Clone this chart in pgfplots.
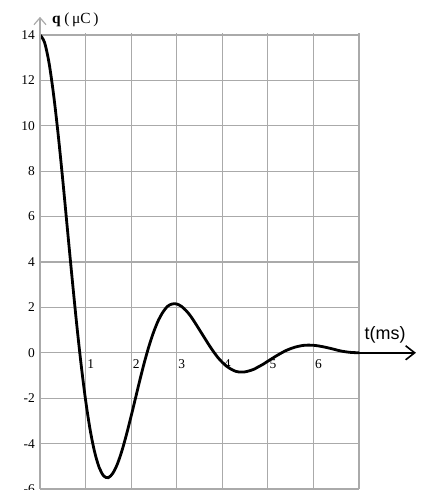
\documentclass[border=0pt]{standalone}
\usepackage{fontspec}
\setmainfont{Liberation Serif}
\newfontfamily\arial{Liberation Sans}
\usepackage{pgfplots}
\pgfplotsset{compat=1.18}
\usetikzlibrary{arrows.meta}
\definecolor{gridgray}{RGB}{170,170,170}

\begin{document}
\begin{tikzpicture}[x=1bp,y=1bp]
\useasboundingbox (0,0) rectangle (425,490);
\begin{axis}[
  at={(40bp,1bp)}, anchor=south west,
  scale only axis,
  width=319bp, height=456.3bp,
  xmin=0, xmax=7, ymin=-6, ymax=14.1,
  xtick={0,1,...,7}, xticklabels={},
  ytick={-6,-4,...,14},
  major tick length=0pt,
  axis line style={draw=none},
  grid=major,
  grid style={gridgray, line width=1.2bp},
  yticklabel style={inner sep=0pt, xshift=-5bp, font=\fontsize{13.5}{15}\selectfont},
  /pgf/number format/assume math mode=true,
  clip=false,
]
% damped oscillation of the charge
\addplot[black, line width=2.8bp, smooth] coordinates {
(0,14.00)(0.1,13.67)(0.2,12.75)(0.3,11.34)(0.4,9.59)(0.5,7.60)(0.6,5.48)
(0.7,3.38)(0.8,1.36)(0.9,-0.48)(1.0,-2.08)(1.1,-3.39)(1.2,-4.38)(1.3,-5.06)
(1.4,-5.43)(1.5,-5.50)(1.6,-5.30)(1.7,-4.89)(1.8,-4.30)(1.9,-3.58)(2.0,-2.79)
(2.1,-1.96)(2.2,-1.13)(2.3,-0.35)(2.4,0.35)(2.5,0.95)(2.6,1.44)(2.7,1.80)
(2.8,2.05)(2.9,2.15)(3.0,2.15)(3.1,2.05)(3.2,1.87)(3.3,1.63)(3.4,1.33)
(3.5,1.01)(3.6,0.69)(3.7,0.37)(3.8,0.07)(3.9,-0.20)(4.0,-0.42)(4.1,-0.60)
(4.2,-0.73)(4.3,-0.82)(4.4,-0.85)(4.5,-0.84)(4.6,-0.79)(4.7,-0.72)(4.8,-0.61)
(4.9,-0.50)(5.0,-0.37)(5.2,-0.12)(5.4,0.10)(5.6,0.25)(5.8,0.33)(6.0,0.33)
(6.2,0.27)(6.4,0.18)(6.6,0.08)(6.8,0.02)(7.0,0.00)
};
% axes
\draw[gridgray, line width=1.2bp, -{Straight Barb[length=7bp,width=12bp]}]
  (axis cs:0,-6) -- (axis cs:0,14.8);
\draw[black, line width=1.6bp, -{Straight Barb[length=9bp,width=14bp]}]
  (axis cs:7,0) -- (axis cs:8.25,0);
% time tick labels
\pgfplotsinvokeforeach{1,...,6}{
  \node[anchor=north west, inner sep=0pt, xshift=1.5bp, yshift=-7bp,
        font=\fontsize{13.5}{15}\selectfont] at (axis cs:#1,0) {#1};
}
\node[anchor=base west, inner sep=0pt, font=\fontsize{15.5}{17}\selectfont]
  at (axis cs:0.26,14.49) {\textbf{q} (\,μC\,)};
\node[anchor=base west, inner sep=0pt, font=\arial\fontsize{18}{20}\selectfont]
  at (axis cs:7.12,0.57) {t(ms)};
\end{axis}
\end{tikzpicture}
\end{document}
